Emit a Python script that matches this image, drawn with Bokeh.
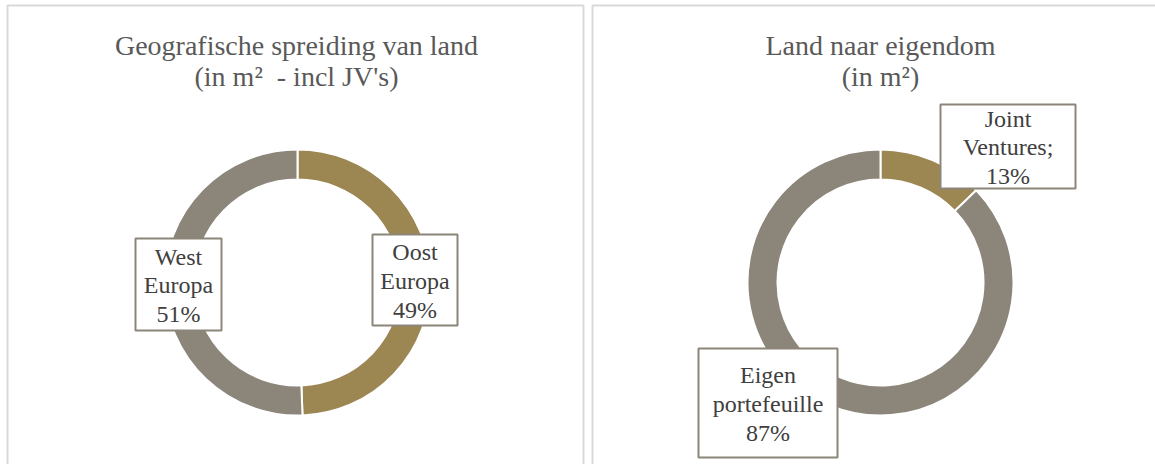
import math
from bokeh.plotting import figure
from bokeh.models import Range1d, ColumnDataSource
from bokeh.core.properties import value
from bokeh.embed import file_html
from bokeh.resources import INLINE

# ---- data ----
geo_title = ["Geografische spreiding van land", "(in m\u00b2\u00a0 - incl JV's)"]
geo_names = ["Oost\nEuropa", "West\nEuropa"]
geo_values = [49.4, 50.6]

own_title = ["Land naar eigendom", "(in m\u00b2)"]
own_names = ["Joint\nVentures;", "Eigen\nportefeuille"]
own_values = [12.8, 87.2]

slice_colors = ["#9C8753", "#8C857A"]

W, H = 1155, 464
FONT = value("Liberation Serif")

p = figure(width=W, height=H, x_range=Range1d(0, W), y_range=Range1d(0, H),
           output_backend="svg", toolbar_location=None, min_border=0)
p.axis.visible = False
p.grid.visible = False
p.outline_line_color = None
p.background_fill_color = "white"
p.border_fill_color = "white"


def Y(py):
    return H - py


# panel frames
p.quad(left=[7, 592], right=[583, 1170], top=[Y(5), Y(5)], bottom=[Y(475), Y(475)],
       fill_color=None, line_color="#D9D9D9", line_width=2)


def donut(cx, cy, values, names, title, title_cx, boxes):
    total = float(sum(values))
    cum = 0.0
    starts, ends = [], []
    for v in values:
        a0 = cum / total
        cum += v
        a1 = cum / total
        starts.append(math.pi / 2 - 2 * math.pi * a0)
        ends.append(math.pi / 2 - 2 * math.pi * a1)
    src = ColumnDataSource(dict(x=[cx] * len(values), y=[Y(cy)] * len(values),
                                start=starts, end=ends, color=slice_colors[:len(values)]))
    p.annular_wedge(x="x", y="y", inner_radius=103, outer_radius=133,
                    start_angle="start", end_angle="end", direction="clock",
                    fill_color="color", line_color="white", line_width=2, source=src)
    # title
    p.text(x=[title_cx, title_cx], y=[Y(45), Y(76)], text=title,
           text_align="center", text_baseline="middle", text_font=FONT,
           text_font_size="28px", text_color="#595959")
    # labels
    for (bx, by, bw, bh), name, v in zip(boxes, names, values):
        pct = round(100.0 * v / total)
        p.quad(left=[bx - bw / 2], right=[bx + bw / 2], top=[Y(by - bh / 2)],
               bottom=[Y(by + bh / 2)], fill_color="white", line_color="#8C857A",
               line_width=2)
        p.text(x=[bx], y=[Y(by + 1)], text=[f"{name}\n{pct}%"], text_align="center",
               text_baseline="middle", text_font=FONT, text_font_size="24px",
               text_color="#404040", text_line_height=1.1)


donut(297, 282, geo_values, geo_names, geo_title, 296,
      [(414.5, 279.5, 85, 91), (178, 284, 86, 92)])
donut(880, 282, own_values, own_names, own_title, 880,
      [(1007.5, 146, 135, 84), (767.5, 402.5, 139, 109)])

open("out.html", "w").write(file_html(p, INLINE))
